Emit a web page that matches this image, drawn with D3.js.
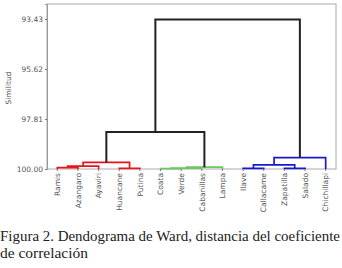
<!DOCTYPE html>
<html>
<head>
<meta charset="utf-8">
<script src="https://cdn.jsdelivr.net/npm/d3@7"></script>
<style>
  body { margin: 0; background: #fff; }
  svg { display: block; }
</style>
</head>
<body>
<div id="chart"></div>
<script>
// leaves in drawing order
const leaves = ["Ramis", "Azangaro", "Ayaviri", "Huancane", "Putina", "Coata", "Verde",
  "Cabanillas", "Lampa", "Ilave", "Callacame", "Zapatilla", "Salado", "Chichillapi"];

// merges, linkage style: [left, right, similitud]; new node ids start at leaves.length
const merges = [
  [0, 1, 99.94], [14, 2, 99.87], [3, 4, 99.97], [15, 16, 99.71],
  [5, 6, 99.98], [18, 7, 99.96], [19, 8, 99.92],
  [9, 10, 99.97], [11, 12, 99.97], [21, 22, 99.82], [23, 13, 99.50],
  [17, 20, 98.38], [25, 24, 93.45]
];
const mergeGroup = ["r", "r", "r", "r", "g", "g", "g", "b", "b", "b", "b", "k", "k"];
const groupColor = { r: "#e8141c", g: "#6cc860", b: "#1a1acc", k: "#222" };

const yTicks = [93.43, 95.62, 97.81, 100.00];

const W = 342, H = 268;
const m = { left: 47, right: 6, top: 4, bottom: 99 };

const svg = d3.select("#chart").append("svg").attr("width", W).attr("height", H);

const x = d3.scalePoint().domain(leaves).range([m.left, W - m.right]).padding(0.5);
const y = d3.scaleLinear().domain([100, 92.77]).range([H - m.bottom, m.top]);

// frame
svg.append("rect")
  .attr("x", m.left).attr("y", m.top)
  .attr("width", W - m.right - m.left).attr("height", H - m.bottom - m.top)
  .attr("fill", "none").attr("stroke", "#aaa").attr("stroke-width", 1);

// y axis
const yAxis = svg.append("g")
  .attr("transform", `translate(${m.left},0)`)
  .call(d3.axisLeft(y).tickValues(yTicks).tickFormat(d3.format(".2f")).tickSize(2).tickPadding(2));
yAxis.select(".domain").attr("stroke", "#999");
yAxis.selectAll(".tick line").attr("stroke", "#777");
yAxis.selectAll("text").attr("fill", "#555").style("font", "7.5px 'DejaVu Sans', sans-serif");

svg.append("text")
  .attr("transform", `translate(11,88) rotate(-90)`)
  .attr("text-anchor", "middle")
  .attr("fill", "#555")
  .style("font", "7.5px 'DejaVu Sans', sans-serif")
  .text("Similitud");

// node positions
const nodes = leaves.map(d => ({ x: x(d), h: 100 }));
merges.forEach(([a, b, h], i) => {
  const A = nodes[a], B = nodes[b];
  nodes.push({ x: (A.x + B.x) / 2, h: h });
  const c = groupColor[mergeGroup[i]];
  const pts = [[A.x, y(A.h)], [A.x, y(h)], [B.x, y(h)], [B.x, y(B.h)]];
  svg.append("path")
    .attr("d", d3.line()(pts))
    .attr("fill", "none")
    .attr("stroke", c)
    .attr("stroke-width", mergeGroup[i] === "k" ? 2 : 1.7);
});

// leaf ticks and labels
const lab = svg.append("g");
lab.selectAll("line").data(leaves).join("line")
  .attr("x1", d => x(d)).attr("x2", d => x(d))
  .attr("y1", y(100)).attr("y2", y(100) + 2)
  .attr("stroke", "#777");
lab.selectAll("text").data(leaves).join("text")
  .attr("transform", d => `translate(${x(d) + 2.7},${y(100) + 4}) rotate(-90)`)
  .attr("text-anchor", "end")
  .attr("fill", "#555")
  .style("font", "7.5px 'DejaVu Sans', sans-serif")
  .text(d => d);

// caption
const cap = svg.append("text")
  .attr("fill", "#222")
  .style("font", "14.5px 'Liberation Serif', 'Times New Roman', serif");
cap.append("tspan").attr("x", 0).attr("y", 241)
  .attr("textLength", 340).attr("lengthAdjust", "spacingAndGlyphs")
  .text("Figura 2. Dendograma de Ward, distancia del coeficiente");
cap.append("tspan").attr("x", 0).attr("y", 258)
  .attr("textLength", 88).attr("lengthAdjust", "spacingAndGlyphs")
  .text("de correlación");
</script>
</body>
</html>
